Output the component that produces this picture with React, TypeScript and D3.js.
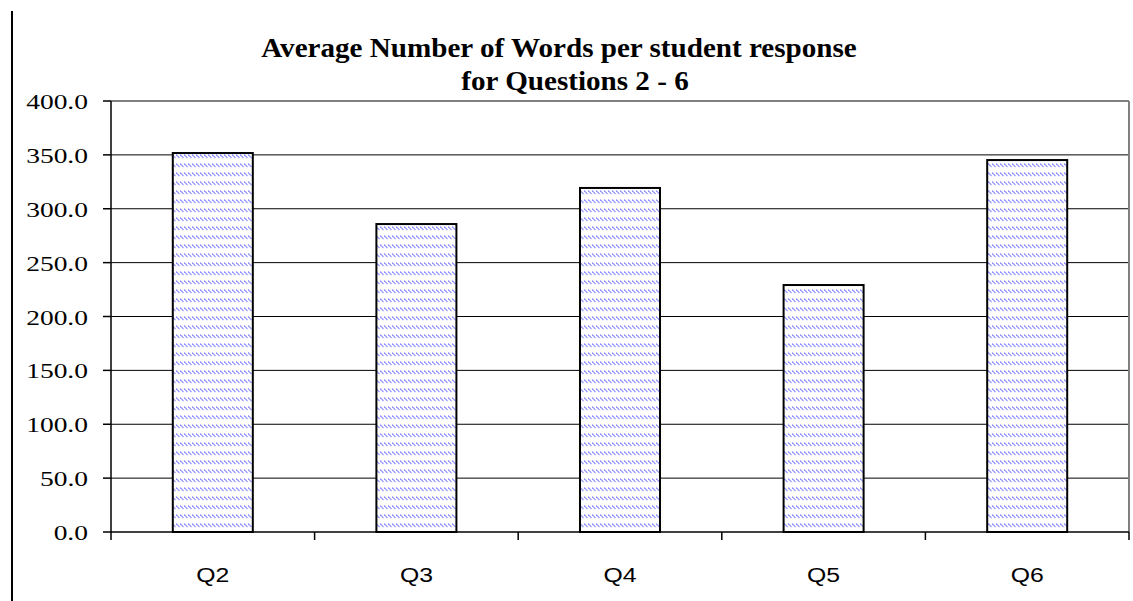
import React from "react";
import * as d3 from "d3";

const categories = ["Q2", "Q3", "Q4", "Q5", "Q6"];
const values = [351.7, 285.8, 319.3, 229.2, 345.2];
const yTicks = [0, 50, 100, 150, 200, 250, 300, 350, 400];
const titleLines = ["Average Number of Words per student response", "for Questions 2 - 6"];

const W = 1133;
const H = 601;
const left = 111;
const right = 1129;
const top = 101;
const bottom = 532;

export default function App() {
  const x = d3.scaleBand<string>().domain(categories).range([left, right]).paddingInner(0.607).paddingOuter(0.3035);
  const y = d3.scaleLinear().domain([0, 400]).range([bottom, top]);
  const step = x.step();
  const boundaries = d3.range(categories.length + 1).map((i) => left + i * step);

  return (
    <svg width={W} height={H} style={{ position: "absolute", left: 0, top: 0, background: "#fff" }}>
      <defs>
        <pattern id="hatch" patternUnits="userSpaceOnUse" width={4} height={9}>
          <rect width={4} height={9} fill="#fff" />
          <line x1={0} y1={1.5} x2={3.5} y2={5} stroke="#9494ff" strokeWidth={1.1} />
        </pattern>
      </defs>
      <rect width={W} height={H} fill="#fff" />
      <line x1={12} x2={12} y1={11} y2={H} stroke="#000" strokeWidth={2} />

      {/* gridlines */}
      {yTicks.filter((t) => t > 0 && t < 400).map((t) => (
        <line key={t} x1={left} x2={right} y1={y(t)} y2={y(t)} stroke="#000" strokeWidth={1} />
      ))}
      <line x1={left} x2={right} y1={y(400)} y2={y(400)} stroke="#808080" strokeWidth={2} />
      <line x1={right} x2={right} y1={top} y2={bottom} stroke="#808080" strokeWidth={2} />

      {/* bars */}
      {categories.map((c, i) => (
        <rect key={c} x={x(c)} y={y(values[i])} width={x.bandwidth()} height={bottom - y(values[i])}
          fill="url(#hatch)" stroke="#000" strokeWidth={2} />
      ))}

      {/* axes */}
      <line x1={left} x2={right} y1={bottom} y2={bottom} stroke="#000" strokeWidth={1.5} />
      <line x1={left} x2={left} y1={top} y2={bottom} stroke="#000" strokeWidth={1.5} />
      {yTicks.map((t) => (
        <line key={t} x1={left - 8} x2={left} y1={y(t)} y2={y(t)} stroke="#000" strokeWidth={1.5} />
      ))}
      {boundaries.map((b, i) => (
        <line key={i} x1={b} x2={b} y1={bottom} y2={bottom + 8} stroke="#000" strokeWidth={1.5} />
      ))}

      {/* y labels */}
      {yTicks.map((t) => (
        <text key={t} transform={`translate(88,${y(t) + 8}) scale(1.25,1)`} textAnchor="end"
          fontFamily="'Liberation Serif', 'Times New Roman', serif" fontSize={22} fill="#000">
          {t.toFixed(1)}
        </text>
      ))}

      {/* x labels */}
      {categories.map((c) => (
        <text key={c} transform={`translate(${(x(c) as number) + x.bandwidth() / 2},582) scale(1.18,1)`}
          textAnchor="middle" fontFamily="'Liberation Sans', Arial, sans-serif" fontSize={21} fill="#000">
          {c}
        </text>
      ))}

      {/* title */}
      {titleLines.map((line, i) => (
        <text key={i} transform={`translate(${i === 0 ? 559 : 575},${57 + i * 33}) scale(1.04,1)`}
          textAnchor="middle" fontFamily="'Liberation Serif', 'Times New Roman', serif" fontWeight="bold"
          fontSize={28} fill="#000">
          {line}
        </text>
      ))}
    </svg>
  );
}
